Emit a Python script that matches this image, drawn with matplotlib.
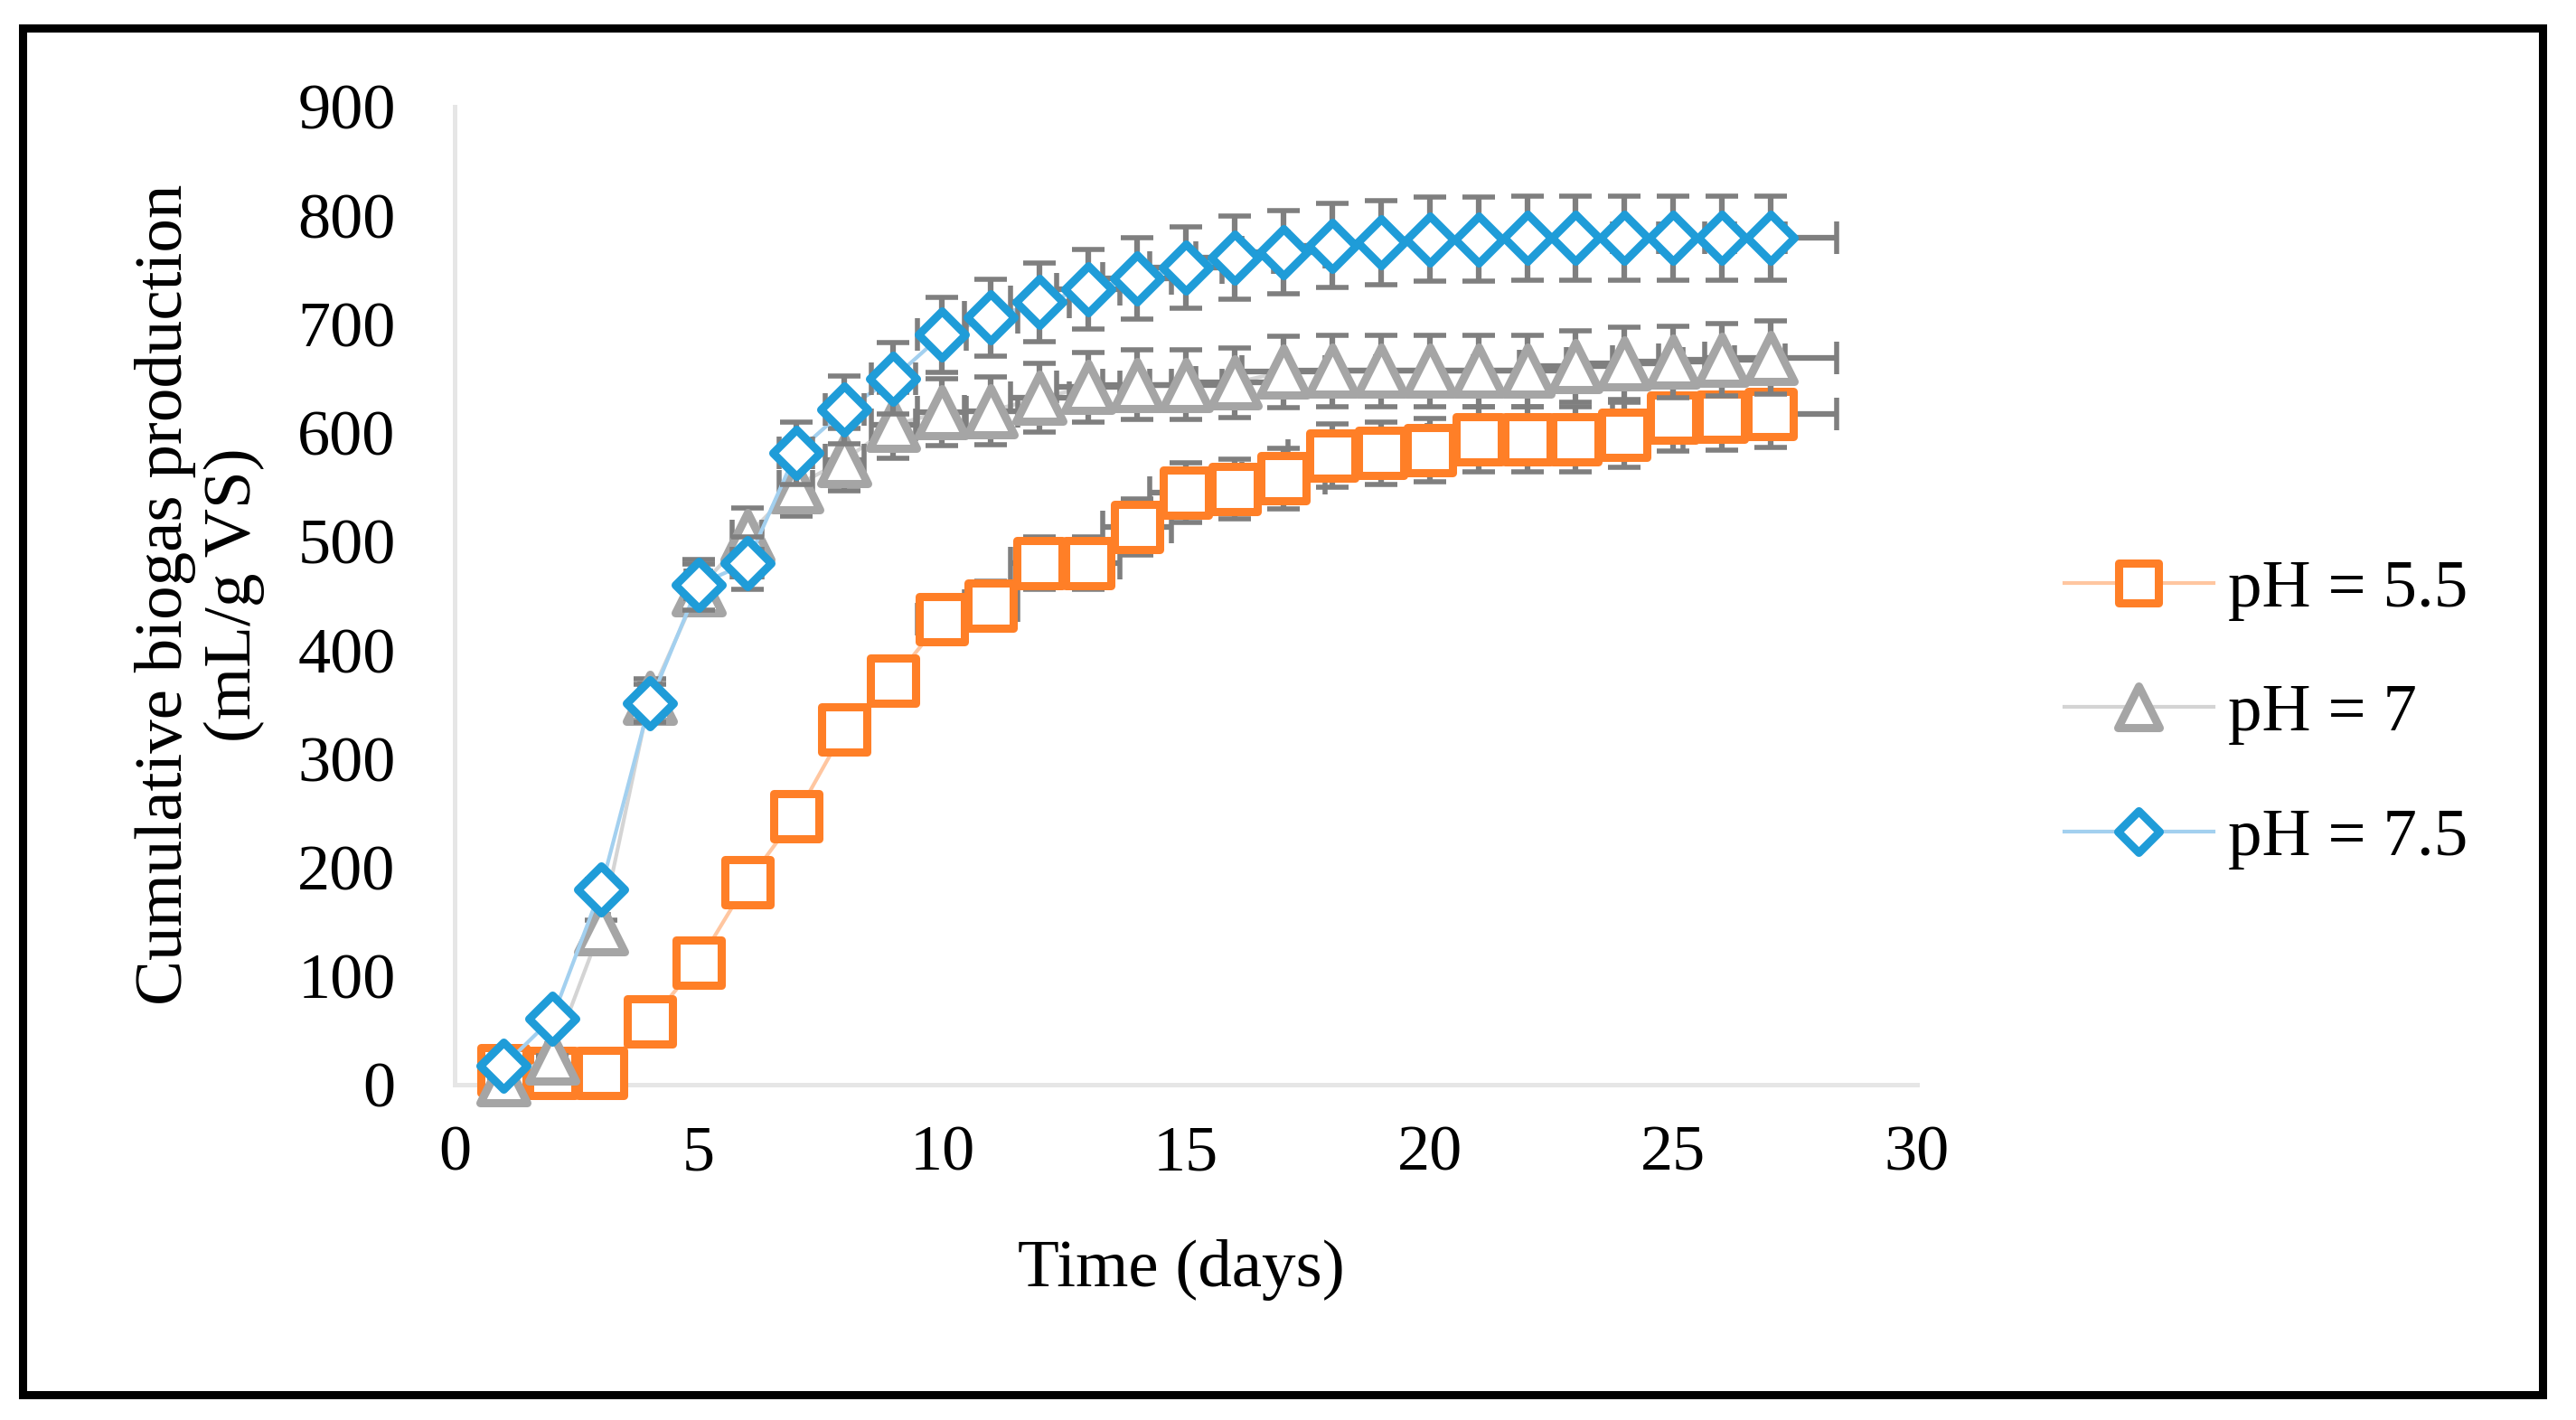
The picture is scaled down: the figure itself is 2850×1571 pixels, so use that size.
import numpy as np
import matplotlib
matplotlib.use("Agg")
import matplotlib.pyplot as plt
from matplotlib.lines import Line2D
from matplotlib.markers import MarkerStyle
from matplotlib.patches import Rectangle

# data
days = np.arange(1, 28)
ph_55 = [13, 11, 11, 58, 112, 186, 247, 327, 372, 428, 441, 480, 480, 513, 545,
         548, 558, 579, 581, 584, 594, 594, 594, 598, 614, 615, 617]
ph_7 = [5, 25, 144, 356, 456, 505, 551, 575, 607, 619, 620, 632, 642, 644, 644,
        646, 656, 657, 657, 657, 657, 657, 661, 664, 665, 667, 669]
ph_75 = [17, 61, 180, 351, 460, 480, 581, 621, 650, 690, 706, 720, 732, 742, 752,
         761, 766, 772, 775, 778, 778, 779, 779, 779, 779, 779, 779]
labels = ["pH = 5.5", "pH = 7", "pH = 7.5"]
err_pct = 0.05  # Excel default percentage error bars (x and y)

plt.rcParams["font.family"] = ["Liberation Serif", "DejaVu Serif"]

fig = plt.figure(figsize=(28.5, 15.71), dpi=100)
ax = fig.add_axes([0.1765, 0.2362, 0.7442 - 0.1765, 0.9249 - 0.2362])

series = [
    (ph_55, "s", 35.3, "#FF7F27", "#FFC6A0"),
    (ph_7, "^", 37.0, "#A5A5A5", "#D4D4D4"),
    (ph_75, "D", 26.5, "#1F9CD8", "#A3D0EF"),
]

handles = []
for i, (vals, mk, ms, mcol, lcol) in enumerate(series):
    y = np.array(vals, dtype=float)
    z = 3 + 2 * i
    ax.plot(days, y, color=lcol, lw=3, zorder=z, clip_on=False)
    ax.errorbar(days, y, xerr=err_pct * days, yerr=err_pct * y, fmt="none",
                ecolor="#7F7F7F", elinewidth=4.5, capsize=13, capthick=4,
                zorder=z + 0.5)
    ax.plot(days, y, ls="none", marker=MarkerStyle(mk, joinstyle="round"),
            ms=ms, mfc="white", mec=mcol, mew=6.5, zorder=z + 1, clip_on=False)
    handles.append(Line2D([], [], color=lcol, lw=3,
                          marker=MarkerStyle(mk, joinstyle="round"), ms=ms,
                          mfc="white", mec=mcol, mew=6.5))

ax.set_xlim(0, 30)
ax.set_ylim(0, 900)
ax.set_xticks(range(0, 31, 5))
ax.set_yticks(range(0, 901, 100))
for side in ["top", "right"]:
    ax.spines[side].set_visible(False)
for side in ["left", "bottom"]:
    ax.spines[side].set_color("#E6E6E6")
    ax.spines[side].set_linewidth(3.6)
ax.tick_params(axis="both", length=0, labelsize=52)
ax.tick_params(axis="y", pad=47)
ax.tick_params(axis="x", pad=32)

fig.text(0.0775, 0.581, "Cumulative biogas production\n(mL/g VS)", rotation=90,
         ha="center", va="center", fontsize=54, linespacing=1.15)
fig.text(0.4586, 0.1057, "Time (days)", ha="center", va="center", fontsize=54)

fig.legend(handles, labels, loc="center left", bbox_to_anchor=(0.8014, 0.497),
           frameon=False, fontsize=54, handlelength=2.2, handletextpad=0.22,
           labelspacing=0.92, borderpad=0, borderaxespad=0, markerscale=0.88)

# black frame around the whole figure
fig.add_artist(Rectangle((0.00877, 0.01782), 0.97825, 0.96245,
                         transform=fig.transFigure, fill=False,
                         edgecolor="black", linewidth=6.5))

fig.savefig("out.png", dpi=100)
